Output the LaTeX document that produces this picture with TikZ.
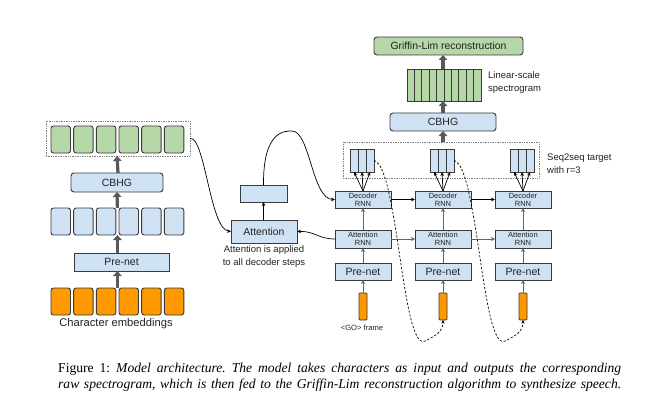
\documentclass[tikz,border=0pt]{standalone}
\usepackage{fontspec}
\setmainfont{Liberation Sans}
\newfontfamily\capfont{Liberation Serif}
\usetikzlibrary{arrows.meta}
\definecolor{lblue}{HTML}{CFE2F3}
\definecolor{lgreen}{HTML}{B6D7A8}
\definecolor{orng}{HTML}{FF9900}
\definecolor{edgec}{HTML}{3A3A3A}
\definecolor{fatgray}{HTML}{595959}
\definecolor{thingray}{HTML}{666666}
\definecolor{txt}{HTML}{222222}
\frenchspacing
\begin{document}
\begin{tikzpicture}[x=1pt,y=-1pt,
  every node/.style={text=txt},
  box/.style={draw=edgec, line width=0.9pt, fill=lblue, inner sep=0pt, outer sep=0pt},
  rbox/.style={box, rounded corners=3pt},
  cell/.style={draw=edgec, line width=0.9pt, rounded corners=2.5pt, minimum width=19.5pt, minimum height=27pt, inner sep=0pt, outer sep=0pt},
  group/.style={inner sep=0pt, outer sep=0pt},
  dotbox/.style={draw=gray, densely dotted, line width=0.7pt, inner sep=0pt, outer sep=0pt},
  fat/.style={draw=fatgray, line width=3.2pt, -{Triangle[length=5pt,width=8.5pt]}},
  thinarr/.style={draw=black, line width=0.7pt, -{Stealth[length=4pt,width=3.6pt]}},
  grayarr/.style={draw=thingray, line width=1pt, -{Stealth[length=4pt,width=4pt]}},
  dasharr/.style={draw=black, line width=0.7pt, dash pattern=on 2.2pt off 1.8pt, -{Stealth[length=3.5pt,width=3.2pt]}},
  bigf/.style={font=\fontsize{10.5}{12}\selectfont},
  midf/.style={font=\fontsize{9.5}{13}\selectfont},
  smallf/.style={font=\fontsize{7.5}{8.2}\selectfont}
]
\fill[white] (0,0) rectangle (671,417);
\useasboundingbox (0,0) rectangle (671,417);

% ---------------- Encoder (left) ----------------
\node[dotbox, minimum width=144pt, minimum height=35pt] (encout) at (118,138.5) {};
\foreach \i in {0,...,5} {
  \node[cell, fill=lgreen] (g\i) at ({60.75+22.67*\i},139.5) {};
  \node[cell, fill=lblue] (b\i) at ({60.75+22.67*\i},221.5) {};
  \node[cell, fill=orng] (o\i) at ({60.75+22.67*\i},301.5) {};
}
\node[group, minimum width=133pt, minimum height=27pt] (encin) at (117.4,221.5) {};
\node[group, minimum width=133pt, minimum height=27pt] (embs) at (117.4,301.5) {};
\node[rbox, bigf, minimum width=92pt, minimum height=19pt] (cbhgL) at (117,182.5) {CBHG};
\node[box, bigf, minimum width=95pt, minimum height=18pt] (preL) at (121.5,262) {Pre-net};
\node[font=\fontsize{11.2}{13}\selectfont, inner sep=0pt] (charemb) at (116,324) {Character embeddings};

\draw[fat] (cbhgL.north -| encout.south) -- (encout.south -| cbhgL.north);
\draw[fat] (encin.north) -- (cbhgL.south);
\draw[fat] (preL.north -| encin.south) -- (encin.south);
\draw[fat] (embs.north) -- (preL.south -| embs.north);

% ---------------- Attention (middle) ----------------
\node[box, font=\fontsize{10.4}{12}\selectfont, minimum width=66pt, minimum height=23pt] (att) at (264,231.5) {Attention};
\node[box, minimum width=47pt, minimum height=17pt] (ctx) at (263.5,193.5) {};
\node[midf, align=center, inner sep=0pt] (attnote) at (264,256.5) {Attention is applied\\to all decoder steps};

% ---------------- Decoder (right) ----------------
\node[rbox, fill=lgreen, font=\fontsize{10.4}{12}\selectfont, minimum width=149pt, minimum height=18pt] (griffin) at (448.5,46) {Griffin-Lim reconstruction};
\node[box, fill=lgreen, minimum width=74pt, minimum height=32pt] (spec) at (444,85) {};
\foreach \k in {1,...,9} {
  \draw[edgec, line width=0.9pt] ({407+7.4*\k},69) -- ({407+7.4*\k},101);
}
\node[midf, align=left, anchor=west, inner sep=0pt] (speclbl) at (488,83) {Linear-scale\\spectrogram};
\node[rbox, bigf, minimum width=106pt, minimum height=18pt] (cbhgR) at (443,122) {CBHG};
\node[dotbox, minimum width=196pt, minimum height=36pt] (seqbox) at (441,160) {};
\node[midf, align=left, anchor=west, inner sep=0pt] (seqlbl) at (547,164) {Seq2seq target\\with r=3};

\draw[fat] (seqbox.north -| cbhgR.south) -- (cbhgR.south);
\draw[fat] (cbhgR.north) -- (spec.south -| cbhgR.north);
\draw[fat] (spec.north -| cbhgR.north) -- (griffin.south -| cbhgR.north);

\foreach \c/\x in {1/363,2/443,3/523} {
  \node[group, minimum width=24pt, minimum height=23pt] (fr\c) at ({\x-1},160.5) {};
  \node[box, minimum width=8pt, minimum height=23pt] (fa\c) at ({\x-9},160.5) {};
  \node[box, minimum width=8pt, minimum height=23pt] (fb\c) at ({\x-1},160.5) {};
  \node[box, minimum width=8pt, minimum height=23pt] (fc\c) at ({\x+7},160.5) {};
  \node[box, smallf, align=center, minimum width=56pt, minimum height=17pt] (dec\c) at (\x,199.5) {Decoder\\RNN};
  \node[box, smallf, align=center, minimum width=56pt, minimum height=18pt] (arnn\c) at (\x,239) {Attention\\RNN};
  \node[box, font=\fontsize{10.6}{12}\selectfont, minimum width=56pt, minimum height=17pt] (pre\c) at (\x,271.5) {Pre-net};
  \node[draw=edgec, line width=0.9pt, fill=orng, inner sep=0pt, outer sep=0pt, rounded corners=1pt, minimum width=8pt, minimum height=27pt] (in\c) at (\x,306.5) {};
  \draw[thinarr] (dec\c.north) -- (fa\c.south);
  \draw[thinarr] (dec\c.north) -- (fb\c.south);
  \draw[thinarr] (dec\c.north) -- (fc\c.south);
  \draw[grayarr] (in\c.north) -- (pre\c.south);
  \draw[grayarr] (pre\c.north) -- (arnn\c.south);
  \draw[grayarr] (arnn\c.north) -- (dec\c.south);
}
\node[font=\fontsize{7.6}{9}\selectfont, inner sep=0pt] (golbl) at (362,327.5) {<GO> frame};

\draw[thinarr] (dec1.east) -- (dec2.west);
\draw[thinarr] (dec2.east) -- (dec3.west);
\draw[grayarr] (arnn1.east) -- (arnn2.west);
\draw[grayarr] (arnn2.east) -- (arnn3.west);

\draw[dasharr] (fr1.east) .. controls (398,166) and (402,352) .. (425,341) .. controls (438,335) and (443,330) .. (in2.south);
\draw[dasharr] (fr2.east) .. controls (478,166) and (482,352) .. (505,341) .. controls (518,335) and (523,330) .. (in3.south);

% ---------------- Connections ----------------
\draw[thinarr] (encout.east) .. controls (205,136) and (210,229) .. (att.west);
\draw[thinarr] (att.north -| ctx.south) -- (ctx.south);
\draw[thinarr] (ctx.north) .. controls (263,130) and (285,131) .. (292,131) .. controls (310,131) and (312,199) .. (dec1.west);
\draw[thinarr] (arnn1.west) .. controls (318,239) and (315,231) .. (att.east);

% ---------------- Caption ----------------
\node[anchor=base west, inner sep=0pt, text=black, font=\capfont\fontsize{13.6}{16}\selectfont] (cap1) at (58,372)
  {\makebox[563pt][s]{Figure 1: \itshape Model architecture. The model takes characters as input and outputs the corresponding}};
\node[anchor=base west, inner sep=0pt, text=black, font=\capfont\fontsize{13.6}{16}\selectfont] (cap2) at (58,388)
  {\makebox[563pt][s]{\itshape raw spectrogram, which is then fed to the Griffin-Lim reconstruction algorithm to synthesize speech.}};
\end{tikzpicture}
\end{document}
